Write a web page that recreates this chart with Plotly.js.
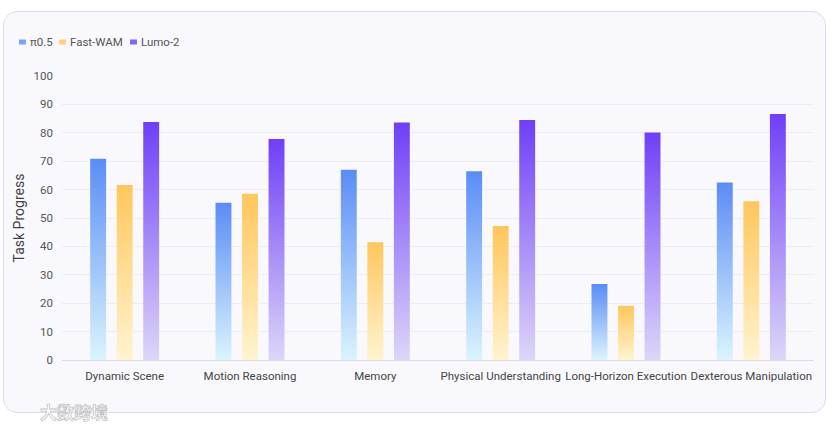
<!DOCTYPE html>
<html>
<head>
<meta charset="utf-8">
<script src="https://cdn.plot.ly/plotly-3.0.1.min.js"></script>
<style>
  html, body { margin:0; padding:0; background:#ffffff; width:832px; height:426px; overflow:hidden; }
  #card { position:absolute; left:3px; top:11px; width:823px; height:402px; border:1px solid #dedbf1; border-radius:14px; background:#f9f9fd; box-sizing:border-box; }
  #chart { position:absolute; left:0; top:0; width:832px; height:426px; }
  #wm { position:absolute; left:40px; top:399px; font-family:"Noto Sans CJK SC", sans-serif; font-size:17px; font-weight:700; color:#ffffff; -webkit-text-stroke:0.8px #c4c4c8; }
</style>
</head>
<body>
<div id="card"></div>
<div id="chart"></div>
<div id="wm">大数跨境</div>
<script>
const categories = ["Dynamic Scene", "Motion Reasoning", "Memory", "Physical Understanding", "Long-Horizon Execution", "Dexterous Manipulation"];
const seriesNames = ["π0.5", "Fast-WAM", "Lumo-2"];
const pi05 = [70.9, 55.4, 67.0, 66.5, 26.8, 62.5];
const fastWAM = [61.6, 58.5, 41.5, 47.2, 19.1, 55.9];
const lumo2 = [83.8, 77.8, 83.6, 84.5, 80.1, 86.6];
const yTicks = [0, 10, 20, 30, 40, 50, 60, 70, 80, 90, 100];

const topColors = ["#5a8cf6", "#ffc65c", "#6f3ff8"];
const bottomColors = ["#dbf4fd", "#fff4cf", "#ddd6f8"];
const legendColors = ["#7aa4f7", "#ffd27a", "#8a63f8"];
const values = [pi05, fastWAM, lumo2];

const traces = values.map((v, i) => ({
  type: "bar",
  name: seriesNames[i],
  x: categories,
  y: v,
  marker: { color: topColors[i], line: { width: 0 } },
  showlegend: false
}));

// custom compact legend (marker rect + label), positioned in paper coords
const W = 752, H = 284, L = 62, T = 76;
const px = p => (p - L) / W;
const py = p => (T + H - p) / H;
const legendX = [19, 59, 130];
const shapes = legendX.map((x0, i) => ({
  type: "rect", xref: "paper", yref: "paper",
  x0: px(x0), x1: px(x0 + 7), y0: py(44.5), y1: py(39.5),
  fillcolor: legendColors[i], line: { width: 0 }
}));
const annotations = legendX.map((x0, i) => ({
  xref: "paper", yref: "paper", x: px(x0 + 9), y: py(42),
  xanchor: "left", yanchor: "middle", showarrow: false,
  text: seriesNames[i], font: { size: 11.5, color: "#555555" }
}));

const layout = {
  width: 832, height: 426,
  margin: { l: L, r: 832 - L - W, t: T, b: 426 - T - H },
  paper_bgcolor: "rgba(0,0,0,0)",
  plot_bgcolor: "rgba(0,0,0,0)",
  barmode: "group",
  bargap: 0.365,
  bargroupgap: 0.4,
  font: { family: "Roboto, sans-serif", color: "#444444", size: 12 },
  showlegend: false,
  shapes: shapes,
  annotations: annotations,
  xaxis: {
    tickfont: { size: 11.5, color: "#444444" },
    tickangle: 0,
    showline: true, linecolor: "#dcdce4", linewidth: 1,
    ticks: "", showgrid: false,
    ticklabelstandoff: 5
  },
  yaxis: {
    range: [0, 100],
    tickvals: yTicks,
    ticktext: yTicks.map(String),
    tickfont: { size: 11.5, color: "#555555" },
    gridcolor: "#ececf3", gridwidth: 1,
    zeroline: false,
    ticks: "", ticklen: 0,
    ticklabelstandoff: 8,
    title: { text: "Task Progress", font: { size: 14, color: "#444444" }, standoff: 5 }
  }
};

Plotly.newPlot("chart", traces, layout, { displayModeBar: false, staticPlot: true }).then(() => {
  const svg = document.querySelector("#chart .main-svg");
  const ns = "http://www.w3.org/2000/svg";
  let defs = svg.querySelector("defs");
  if (!defs) { defs = document.createElementNS(ns, "defs"); svg.insertBefore(defs, svg.firstChild); }
  topColors.forEach((c, i) => {
    const g = document.createElementNS(ns, "linearGradient");
    g.setAttribute("id", "barGrad" + i);
    g.setAttribute("x1", "0"); g.setAttribute("y1", "0");
    g.setAttribute("x2", "0"); g.setAttribute("y2", "1");
    const s1 = document.createElementNS(ns, "stop");
    s1.setAttribute("offset", "0"); s1.setAttribute("stop-color", c);
    const s2 = document.createElementNS(ns, "stop");
    s2.setAttribute("offset", "1"); s2.setAttribute("stop-color", bottomColors[i]);
    g.appendChild(s1); g.appendChild(s2);
    defs.appendChild(g);
  });
  document.querySelectorAll("#chart .barlayer .trace").forEach((grp, i) => {
    grp.querySelectorAll("path").forEach(p => { p.style.fill = "url(#barGrad" + i + ")"; });
  });
});
</script>
</body>
</html>
